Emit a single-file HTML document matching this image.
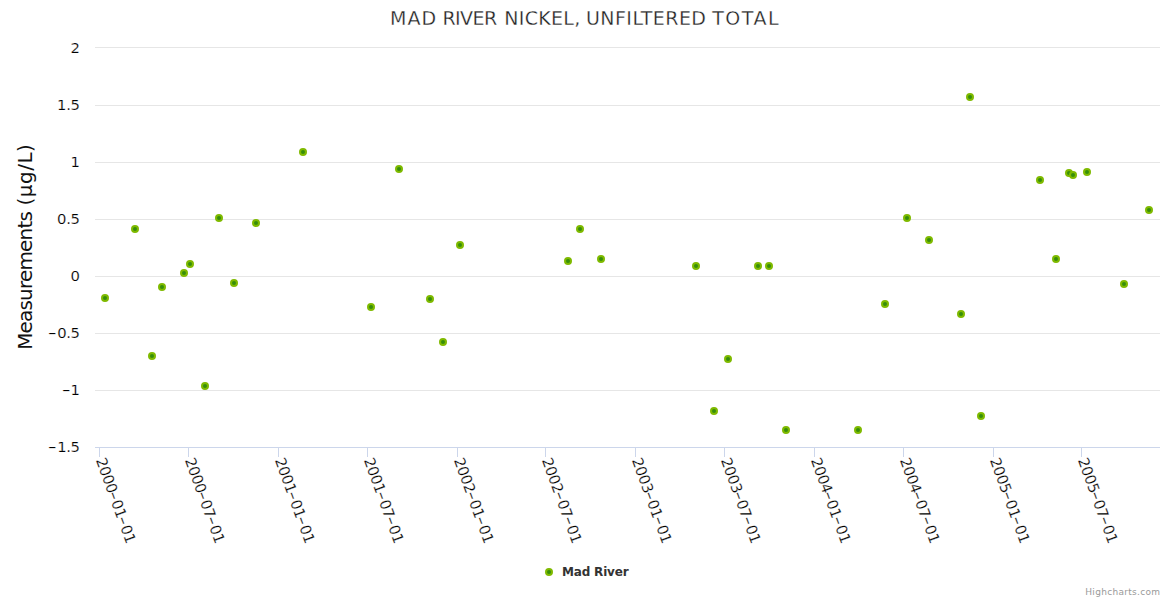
<!DOCTYPE html>
<html lang="en"><head><meta charset="utf-8"><title>Mad River Nickel, Unfiltered Total</title>
<style>
html,body{margin:0;padding:0;background:#fff;}
body{width:1170px;height:600px;overflow:hidden;}
svg{display:block;}
svg text{font-family:'DejaVu Sans', 'Liberation Sans', sans-serif;fill:#333333;}
.yl,.xl{font-size:14.8px;fill:#000;stroke:#fff;stroke-width:0.2;paint-order:fill stroke;}
.yl{text-anchor:end;}
.xl{text-anchor:start;}
.tt{font-size:19px;fill:#222;stroke:#fff;stroke-width:0.3;paint-order:fill stroke;}
.yt{font-size:20px;fill:#111;}
.pt{fill:#368e0a;stroke:#7fba00;stroke-width:2;}
</style></head><body>
<svg width="1170" height="600" viewBox="0 0 1170 600">
<rect x="0" y="0" width="1170" height="600" fill="#ffffff"/>
<g stroke="#e6e6e6" stroke-width="1" shape-rendering="crispEdges">
<path d="M95 47.5H1160"/>
<path d="M95 105.5H1160"/>
<path d="M95 162.5H1160"/>
<path d="M95 219.5H1160"/>
<path d="M95 276.5H1160"/>
<path d="M95 333.5H1160"/>
<path d="M95 390.5H1160"/>
</g>
<g stroke="#ccd6eb" stroke-width="1" shape-rendering="crispEdges">
<path d="M95 447.5H1160"/>
<path d="M99.5 447V457"/>
<path d="M188.5 447V457"/>
<path d="M278.5 447V457"/>
<path d="M367.5 447V457"/>
<path d="M457.5 447V457"/>
<path d="M545.5 447V457"/>
<path d="M635.5 447V457"/>
<path d="M724.5 447V457"/>
<path d="M814.5 447V457"/>
<path d="M903.5 447V457"/>
<path d="M993.5 447V457"/>
<path d="M1081.5 447V457"/>
</g>
<text class="tt" y="24.8"><tspan x="390.05" textLength="46" lengthAdjust="spacing">MAD</tspan> <tspan x="442.45" textLength="54.75" lengthAdjust="spacing">RIVER</tspan> <tspan x="504.25" textLength="76" lengthAdjust="spacing">NICKEL,</tspan> <tspan x="586" textLength="120" lengthAdjust="spacing">UNFILTERED</tspan> <tspan x="712.2" textLength="66.5" lengthAdjust="spacing">TOTAL</tspan></text>
<text class="yt" transform="translate(32.1 348) rotate(-90)"><tspan x="-1.8" textLength="138.65" lengthAdjust="spacing">Measurements</tspan> <tspan x="142.5" textLength="61.4" lengthAdjust="spacing">(µg/L)</tspan></text>
<text class="yl" x="80" y="53" textLength="9" lengthAdjust="spacing">2</text>
<text class="yl" x="80" y="110" textLength="23" lengthAdjust="spacing">1.5</text>
<text class="yl" x="80" y="167" textLength="9" lengthAdjust="spacing">1</text>
<text class="yl" x="80" y="224" textLength="23" lengthAdjust="spacing">0.5</text>
<text class="yl" x="80" y="281" textLength="9" lengthAdjust="spacing">0</text>
<text class="yl" x="80.8" y="338" textLength="32" lengthAdjust="spacing"><tspan dx="-1" dy="-0.4" textLength="9" lengthAdjust="spacingAndGlyphs">-</tspan><tspan dx="1" dy="0.4">0.5</tspan></text>
<text class="yl" x="80.8" y="395" textLength="18" lengthAdjust="spacing"><tspan dx="-1" dy="-0.4" textLength="9" lengthAdjust="spacingAndGlyphs">-</tspan><tspan dx="1" dy="0.4">1</tspan></text>
<text class="yl" x="80.8" y="452" textLength="32" lengthAdjust="spacing"><tspan dx="-1" dy="-0.4" textLength="9" lengthAdjust="spacingAndGlyphs">-</tspan><tspan dx="1" dy="0.4">1.5</tspan></text>
<text class="xl" transform="translate(95.7 460) rotate(70)" textLength="90" lengthAdjust="spacing">2000<tspan dx="-1" dy="-0.4" textLength="9" lengthAdjust="spacingAndGlyphs">-</tspan><tspan dx="1" dy="0.4">01</tspan><tspan dx="-1" dy="-0.4" textLength="9" lengthAdjust="spacingAndGlyphs">-</tspan><tspan dx="1" dy="0.4">01</tspan></text>
<text class="xl" transform="translate(184.7 460) rotate(70)" textLength="90" lengthAdjust="spacing">2000<tspan dx="-1" dy="-0.4" textLength="9" lengthAdjust="spacingAndGlyphs">-</tspan><tspan dx="1" dy="0.4">07</tspan><tspan dx="-1" dy="-0.4" textLength="9" lengthAdjust="spacingAndGlyphs">-</tspan><tspan dx="1" dy="0.4">01</tspan></text>
<text class="xl" transform="translate(274.7 460) rotate(70)" textLength="90" lengthAdjust="spacing">2001<tspan dx="-1" dy="-0.4" textLength="9" lengthAdjust="spacingAndGlyphs">-</tspan><tspan dx="1" dy="0.4">01</tspan><tspan dx="-1" dy="-0.4" textLength="9" lengthAdjust="spacingAndGlyphs">-</tspan><tspan dx="1" dy="0.4">01</tspan></text>
<text class="xl" transform="translate(363.7 460) rotate(70)" textLength="90" lengthAdjust="spacing">2001<tspan dx="-1" dy="-0.4" textLength="9" lengthAdjust="spacingAndGlyphs">-</tspan><tspan dx="1" dy="0.4">07</tspan><tspan dx="-1" dy="-0.4" textLength="9" lengthAdjust="spacingAndGlyphs">-</tspan><tspan dx="1" dy="0.4">01</tspan></text>
<text class="xl" transform="translate(453.7 460) rotate(70)" textLength="90" lengthAdjust="spacing">2002<tspan dx="-1" dy="-0.4" textLength="9" lengthAdjust="spacingAndGlyphs">-</tspan><tspan dx="1" dy="0.4">01</tspan><tspan dx="-1" dy="-0.4" textLength="9" lengthAdjust="spacingAndGlyphs">-</tspan><tspan dx="1" dy="0.4">01</tspan></text>
<text class="xl" transform="translate(541.7 460) rotate(70)" textLength="90" lengthAdjust="spacing">2002<tspan dx="-1" dy="-0.4" textLength="9" lengthAdjust="spacingAndGlyphs">-</tspan><tspan dx="1" dy="0.4">07</tspan><tspan dx="-1" dy="-0.4" textLength="9" lengthAdjust="spacingAndGlyphs">-</tspan><tspan dx="1" dy="0.4">01</tspan></text>
<text class="xl" transform="translate(631.7 460) rotate(70)" textLength="90" lengthAdjust="spacing">2003<tspan dx="-1" dy="-0.4" textLength="9" lengthAdjust="spacingAndGlyphs">-</tspan><tspan dx="1" dy="0.4">01</tspan><tspan dx="-1" dy="-0.4" textLength="9" lengthAdjust="spacingAndGlyphs">-</tspan><tspan dx="1" dy="0.4">01</tspan></text>
<text class="xl" transform="translate(720.7 460) rotate(70)" textLength="90" lengthAdjust="spacing">2003<tspan dx="-1" dy="-0.4" textLength="9" lengthAdjust="spacingAndGlyphs">-</tspan><tspan dx="1" dy="0.4">07</tspan><tspan dx="-1" dy="-0.4" textLength="9" lengthAdjust="spacingAndGlyphs">-</tspan><tspan dx="1" dy="0.4">01</tspan></text>
<text class="xl" transform="translate(810.7 460) rotate(70)" textLength="90" lengthAdjust="spacing">2004<tspan dx="-1" dy="-0.4" textLength="9" lengthAdjust="spacingAndGlyphs">-</tspan><tspan dx="1" dy="0.4">01</tspan><tspan dx="-1" dy="-0.4" textLength="9" lengthAdjust="spacingAndGlyphs">-</tspan><tspan dx="1" dy="0.4">01</tspan></text>
<text class="xl" transform="translate(899.7 460) rotate(70)" textLength="90" lengthAdjust="spacing">2004<tspan dx="-1" dy="-0.4" textLength="9" lengthAdjust="spacingAndGlyphs">-</tspan><tspan dx="1" dy="0.4">07</tspan><tspan dx="-1" dy="-0.4" textLength="9" lengthAdjust="spacingAndGlyphs">-</tspan><tspan dx="1" dy="0.4">01</tspan></text>
<text class="xl" transform="translate(989.7 460) rotate(70)" textLength="90" lengthAdjust="spacing">2005<tspan dx="-1" dy="-0.4" textLength="9" lengthAdjust="spacingAndGlyphs">-</tspan><tspan dx="1" dy="0.4">01</tspan><tspan dx="-1" dy="-0.4" textLength="9" lengthAdjust="spacingAndGlyphs">-</tspan><tspan dx="1" dy="0.4">01</tspan></text>
<text class="xl" transform="translate(1077.7 460) rotate(70)" textLength="90" lengthAdjust="spacing">2005<tspan dx="-1" dy="-0.4" textLength="9" lengthAdjust="spacingAndGlyphs">-</tspan><tspan dx="1" dy="0.4">07</tspan><tspan dx="-1" dy="-0.4" textLength="9" lengthAdjust="spacingAndGlyphs">-</tspan><tspan dx="1" dy="0.4">01</tspan></text>
<g class="pt">
<circle cx="105" cy="298" r="3"/>
<circle cx="135" cy="229" r="3"/>
<circle cx="152" cy="356" r="3"/>
<circle cx="162" cy="287" r="3"/>
<circle cx="184" cy="273" r="3"/>
<circle cx="190" cy="264" r="3"/>
<circle cx="205" cy="386" r="3"/>
<circle cx="219" cy="218" r="3"/>
<circle cx="234" cy="283" r="3"/>
<circle cx="256" cy="223" r="3"/>
<circle cx="303" cy="152" r="3"/>
<circle cx="371" cy="307" r="3"/>
<circle cx="399" cy="169" r="3"/>
<circle cx="430" cy="299" r="3"/>
<circle cx="443" cy="342" r="3"/>
<circle cx="460" cy="245" r="3"/>
<circle cx="568" cy="261" r="3"/>
<circle cx="580" cy="229" r="3"/>
<circle cx="601" cy="259" r="3"/>
<circle cx="696" cy="266" r="3"/>
<circle cx="714" cy="411" r="3"/>
<circle cx="728" cy="359" r="3"/>
<circle cx="758" cy="266" r="3"/>
<circle cx="769" cy="266" r="3"/>
<circle cx="786" cy="430" r="3"/>
<circle cx="858" cy="430" r="3"/>
<circle cx="885" cy="304" r="3"/>
<circle cx="907" cy="218" r="3"/>
<circle cx="929" cy="240" r="3"/>
<circle cx="961" cy="314" r="3"/>
<circle cx="970" cy="97" r="3"/>
<circle cx="981" cy="416" r="3"/>
<circle cx="1040" cy="180" r="3"/>
<circle cx="1056" cy="259" r="3"/>
<circle cx="1069" cy="173" r="3"/>
<circle cx="1073" cy="175" r="3"/>
<circle cx="1087" cy="172" r="3"/>
<circle cx="1124" cy="284" r="3"/>
<circle cx="1149" cy="210" r="3"/>
</g>
<circle class="pt" cx="549" cy="572" r="3"/>
<text x="562" y="575.6" font-size="12" font-weight="bold" textLength="66.6" lengthAdjust="spacing">Mad River</text>
<text x="1160" y="595" text-anchor="end" font-size="9" style="fill:#999999" textLength="74.7" lengthAdjust="spacing">Highcharts.com</text>
</svg>
</body></html>
